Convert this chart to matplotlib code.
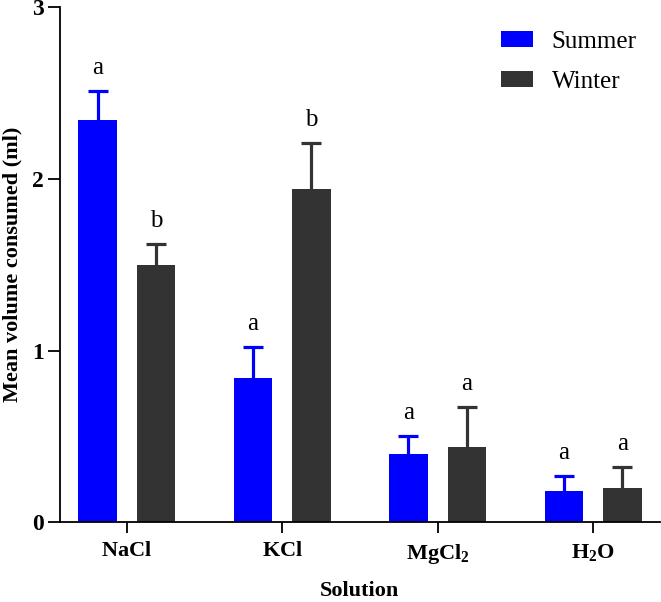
import matplotlib
matplotlib.use("Agg")
import matplotlib.pyplot as plt
import numpy as np

categories = [r"$\mathbf{NaCl}$", r"$\mathbf{KCl}$", r"$\mathbf{MgCl_2}$", r"$\mathbf{H_2O}$"]
summer = [2.34, 0.84, 0.40, 0.18]
summer_err = [0.17, 0.18, 0.10, 0.09]
winter = [1.50, 1.94, 0.44, 0.20]
winter_err = [0.12, 0.27, 0.23, 0.12]
summer_letters = ["a", "a", "a", "a"]
winter_letters = ["b", "b", "a", "a"]

FONT = 'Liberation Serif'
plt.rcParams['font.family'] = 'serif'
plt.rcParams['font.serif'] = [FONT, 'DejaVu Serif']
plt.rcParams['mathtext.fontset'] = 'custom'
plt.rcParams['mathtext.rm'] = FONT
plt.rcParams['mathtext.bf'] = FONT + ':bold'
plt.rcParams['mathtext.it'] = FONT + ':italic'

fig = plt.figure(figsize=(6.61, 6.02), dpi=100)
ax = fig.add_axes([59.5/661, 1-522.3/602, (660-59.5)/661, (522.3-7)/602])

x = np.arange(len(categories))
w = 0.249
off = 0.188
blue = "#0000FF"
dark = "#333333"

ax.bar(x - off, summer, w, color=blue, label="Summer", zorder=2, linewidth=0)
ax.bar(x + off, winter, w, color=dark, label="Winter", zorder=2, linewidth=0)
for xs, vals, errs, col in [(x - off, summer, summer_err, blue), (x + off, winter, winter_err, dark)]:
    eb = ax.errorbar(xs, vals, yerr=[np.zeros(len(vals)), errs], fmt='none', ecolor=col,
                     elinewidth=2.3, capsize=7, capthick=2.3, zorder=1)
    caps = eb[1]
    if len(caps) == 2:
        caps[0].set_visible(False)

for i in range(len(categories)):
    ax.text(x[i] - off, summer[i] + summer_err[i] + 0.10, summer_letters[i],
            ha='center', va='baseline', fontsize=18, family=FONT)
    ax.text(x[i] + off, winter[i] + winter_err[i] + 0.10, winter_letters[i],
            ha='center', va='baseline', fontsize=18, family=FONT)

ax.set_xlim(-0.433, 3.43)
ax.set_ylim(0, 3)
ax.set_yticks([0, 1, 2, 3])
ax.set_yticklabels(["0", "1", "2", "3"], fontweight='bold', fontsize=17, family=FONT)
ax.set_xticks(x)
ax.set_xticklabels(categories, fontsize=16)
ax.spines['top'].set_visible(False)
ax.spines['right'].set_visible(False)
for s in ['left', 'bottom']:
    ax.spines[s].set_linewidth(1.3)
ax.tick_params(axis='y', length=9, width=1.3, direction='out', pad=2.5)
ax.tick_params(axis='x', length=8, width=1.3, direction='out', pad=6)

ax.set_xlabel("Solution", fontweight='bold', fontsize=16, family=FONT)
ax.xaxis.label.set_va('center')
ax.xaxis.set_label_coords(0.5, (522.3 - 591) / 515.3)
ax.set_ylabel("Mean volume consumed (ml)", fontweight='bold', fontsize=16, family=FONT)
ax.yaxis.label.set_va('center')
ax.yaxis.set_label_coords((12 - 59.5) / 600.5, 0.5)

fig.legend(loc='upper left', bbox_to_anchor=(500.7/661, 1-31/602), frameon=False,
           prop={'family': FONT, 'size': 18}, handlelength=1.28, handleheight=0.6,
           labelspacing=0.72, handletextpad=0.76, borderpad=0, borderaxespad=0)

fig.savefig("out.png", dpi=100)
